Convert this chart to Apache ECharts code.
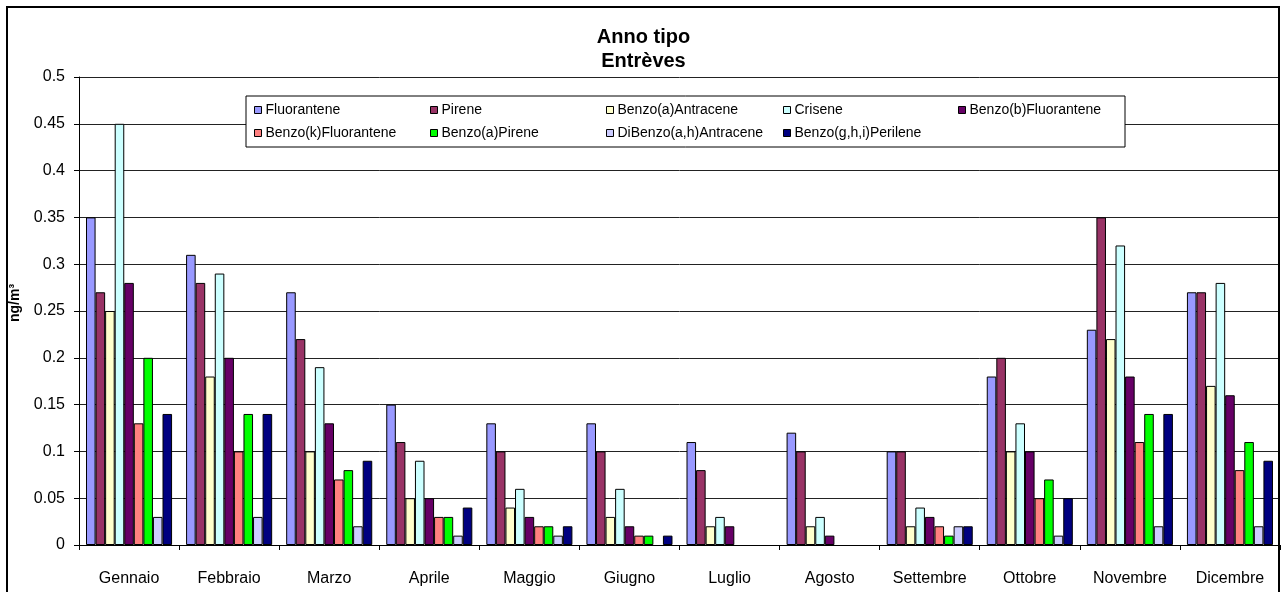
<!DOCTYPE html>
<html>
<head>
<meta charset="utf-8">
<script src="https://cdn.jsdelivr.net/npm/echarts@6/dist/echarts.min.js"></script>
<style>html,body{margin:0;padding:0;background:#fff}#c{width:1287px;height:592px}</style>
</head>
<body>
<div id="c"></div>
<script>
const months = ['Gennaio','Febbraio','Marzo','Aprile','Maggio','Giugno','Luglio','Agosto','Settembre','Ottobre','Novembre','Dicembre'];
const yTicks = [0,0.05,0.1,0.15,0.2,0.25,0.3,0.35,0.4,0.45,0.5];

const seriesNames = ['Fluorantene','Pirene','Benzo(a)Antracene','Crisene','Benzo(b)Fluorantene','Benzo(k)Fluorantene','Benzo(a)Pirene','DiBenzo(a,h)Antracene','Benzo(g,h,i)Perilene'];
const seriesColors = ['#9999FF','#993366','#FFFFCC','#CCFFFF','#660066','#FF8080','#00FF00','#CCCCFF','#000080'];

const fluorantene    = [0.35,0.31,0.27,0.15,0.13,0.13,0.11,0.12,0.10,0.18,0.23,0.27];
const pirene         = [0.27,0.28,0.22,0.11,0.10,0.10,0.08,0.10,0.10,0.20,0.35,0.27];
const benzoAAntr     = [0.25,0.18,0.10,0.05,0.04,0.03,0.02,0.02,0.02,0.10,0.22,0.17];
const crisene        = [0.45,0.29,0.19,0.09,0.06,0.06,0.03,0.03,0.04,0.13,0.32,0.28];
const benzoBFluor    = [0.28,0.20,0.13,0.05,0.03,0.02,0.02,0.01,0.03,0.10,0.18,0.16];
const benzoKFluor    = [0.13,0.10,0.07,0.03,0.02,0.01,0,0,0.02,0.05,0.11,0.08];
const benzoAPirene   = [0.20,0.14,0.08,0.03,0.02,0.01,0,0,0.01,0.07,0.14,0.11];
const dibenzoAHAntr  = [0.03,0.03,0.02,0.01,0.01,0,0,0,0.02,0.01,0.02,0.02];
const benzoGHIPeril  = [0.14,0.14,0.09,0.04,0.02,0.01,0,0,0.02,0.05,0.14,0.09];

const seriesValues = [fluorantene,pirene,benzoAAntr,crisene,benzoBFluor,benzoKFluor,benzoAPirene,dibenzoAHAntr,benzoGHIPeril];

const FONT = '"Liberation Sans", Arial, sans-serif';
const legendCols = [254, 430, 606, 783, 958];
const legendRows = [110, 133];

const legends = seriesNames.map((n, i) => ({
  data: [n],
  left: legendCols[i % 5],
  top: legendRows[Math.floor(i / 5)] - 7,
  padding: 0,
  itemWidth: 7,
  itemHeight: 7,
  itemGap: 0,
  icon: 'rect',
  textStyle: { fontFamily: FONT, fontSize: 14, color: '#000', padding: [0,0,0,-1] },
  itemStyle: { borderColor: '#000', borderWidth: 1 }
}));

const chart = echarts.init(document.getElementById('c'), null, { renderer: 'canvas' });
chart.setOption({
  animation: false,
  backgroundColor: '#fff',
  title: {
    text: 'Anno tipo\nEntrèves',
    left: 'center',
    top: 20,
    textStyle: { fontFamily: FONT, fontSize: 20, fontWeight: 'bold', color: '#000', lineHeight: 24 }
  },
  legend: legends,
  graphic: [
    { type: 'rect', shape: { x: 7, y: 7, width: 1272, height: 600 }, style: { fill: null, stroke: '#000', lineWidth: 2 }, z: 100, silent: true },
    { type: 'rect', shape: { x: 246, y: 96, width: 879, height: 51 }, style: { fill: '#fff', stroke: '#000', lineWidth: 1 }, z: 1, silent: true }
  ],
  grid: { left: 78, right: 7, top: 77, bottom: 47 },
  xAxis: {
    type: 'category',
    data: months,
    axisLine: { lineStyle: { color: '#000', width: 1 } },
    axisTick: { show: true, length: 5, lineStyle: { color: '#000' } },
    axisLabel: { fontFamily: FONT, fontSize: 16, color: '#000', margin: 26 }
  },
  yAxis: {
    type: 'value',
    min: yTicks[0],
    max: yTicks[yTicks.length - 1],
    interval: yTicks[1] - yTicks[0],
    name: 'ng/m³',
    nameLocation: 'middle',
    nameGap: 57,
    nameTextStyle: { fontFamily: FONT, fontSize: 14, fontWeight: 'bold', color: '#000', padding: [0, 0, 0, 16] },
    axisLine: { show: true, lineStyle: { color: '#000' } },
    axisTick: { show: true, length: 5, lineStyle: { color: '#000' } },
    axisLabel: { fontFamily: FONT, fontSize: 16, color: '#000', margin: 14,
      formatter: v => { const t = yTicks.find(x => Math.abs(x - v) < 1e-9); return String(t !== undefined ? t : v); } },
    splitLine: { show: true, lineStyle: { color: '#222', width: 1 } }
  },
  series: seriesNames.map((n, i) => ({
    name: n,
    type: 'bar',
    data: seriesValues[i].map(v => (v === 0 ? '-' : v)),
    barGap: '0%',
    barCategoryGap: '14%',
    itemStyle: { color: seriesColors[i], borderColor: '#000', borderWidth: 1 },
    z: 3
  }))
});
</script>
</body>
</html>
